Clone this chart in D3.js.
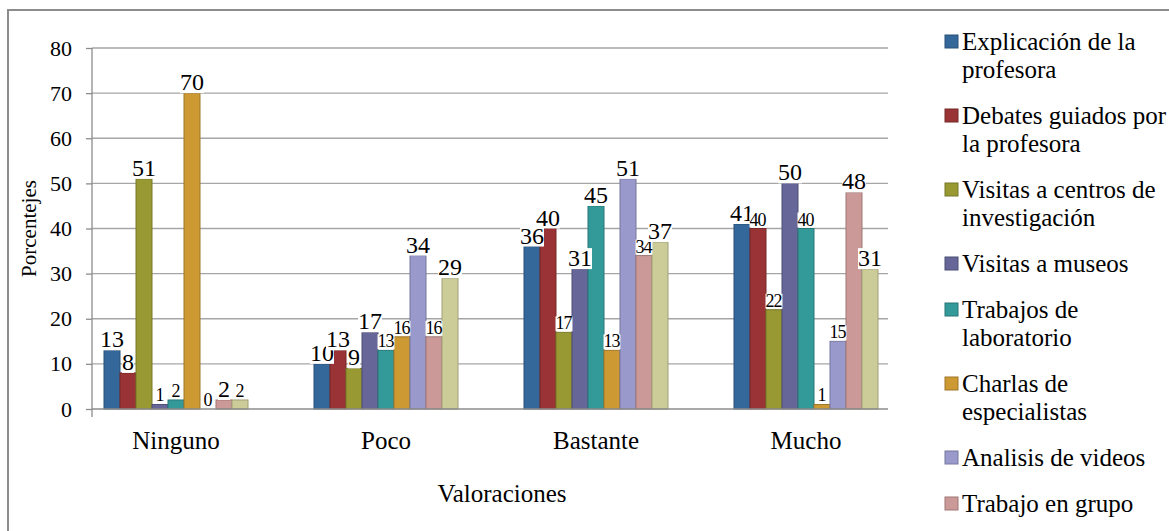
<!DOCTYPE html>
<html>
<head>
<meta charset="utf-8">
<script src="https://cdn.jsdelivr.net/npm/d3@7"></script>
<style>
  body { margin: 0; background: #fff; }
  svg { display: block; }
  svg text { font-family: "Liberation Serif", "Tinos", "Times New Roman", "DejaVu Serif", serif; }
</style>
</head>
<body>
<svg width="1169" height="531"></svg>
<script>
// data
const categories = ["Ninguno", "Poco", "Bastante", "Mucho"];
const seriesNames = [
  "Explicación de la profesora",
  "Debates guiados por la profesora",
  "Visitas a centros de investigación",
  "Visitas a museos",
  "Trabajos de laboratorio",
  "Charlas de especialistas",
  "Analisis de videos",
  "Trabajo en grupo",
  "Otros"
];
const explicacion = [13, 10, 36, 41];
const debates     = [8, 13, 40, 40];
const centros     = [51, 9, 17, 22];
const museos      = [1, 17, 31, 50];
const laboratorio = [2, 13, 45, 40];
const charlas     = [70, 16, 13, 1];
const videos      = [0, 34, 51, 15];
const grupo       = [2, 16, 34, 48];
const otros       = [2, 29, 37, 31];
const yTicks = [0, 10, 20, 30, 40, 50, 60, 70, 80];

const seriesValues = [explicacion, debates, centros, museos, laboratorio, charlas, videos, grupo, otros];
const colors = ["#34679a", "#993335", "#999933", "#666699", "#339999", "#cc9933", "#9999cc", "#cc9999", "#cccc99"];

// labels drawn smaller in the original (series index per category)
const smallLabels = {
  Ninguno: [3, 4, 6, 8],
  Poco: [4, 5, 7],
  Bastante: [2, 5, 7],
  Mucho: [1, 2, 4, 5, 6]
};

const svg = d3.select("svg"),
    width = +svg.attr("width"),
    height = +svg.attr("height");

// chart border (cropped at right and bottom)
svg.append("rect")
    .attr("x", 8).attr("y", 10)
    .attr("width", 1200).attr("height", 600)
    .attr("fill", "none")
    .attr("stroke", "#8c8c8c")
    .attr("stroke-width", 2);

const plotLeft = 92, plotRight = 888;

const y = d3.scaleLinear()
    .domain([0, 80])
    .range([409, 48]);

const x0 = d3.scaleBand()
    .domain(categories)
    .range([71, 911]);

const x1 = d3.scaleBand()
    .domain(d3.range(seriesNames.length))
    .range([-72, 72]);

// gridlines
svg.append("g")
  .selectAll("line")
  .data(yTicks.filter(d => d > 0))
  .join("line")
    .attr("x1", plotLeft).attr("x2", plotRight)
    .attr("y1", d => y(d)).attr("y2", d => y(d))
    .attr("stroke", "#a6a6a6")
    .attr("stroke-width", 1.3);

// y axis
const yAxis = svg.append("g")
    .attr("transform", `translate(${plotLeft},0)`)
    .call(d3.axisLeft(y).tickValues(yTicks).tickSize(6).tickPadding(14));
yAxis.attr("font-family", null);
yAxis.select(".domain").remove();
yAxis.selectAll(".tick line").attr("stroke", "#8c8c8c").attr("stroke-width", 1.3);
yAxis.selectAll(".tick text")
    .attr("font-size", 22)
    .attr("fill", "#000");
svg.append("line")
    .attr("x1", plotLeft).attr("x2", plotLeft)
    .attr("y1", y(80)).attr("y2", y(0) + 8)
    .attr("stroke", "#8c8c8c").attr("stroke-width", 1.3);

// bars
const groups = svg.append("g")
  .selectAll("g")
  .data(categories)
  .join("g")
    .attr("transform", d => `translate(${x0(d) + x0.bandwidth() / 2},0)`);

groups.selectAll("rect")
  .data((c, ci) => seriesValues.map((vals, si) => ({cat: c, si: si, v: vals[ci]})))
  .join("rect")
    .attr("x", d => x1(d.si))
    .attr("y", d => y(d.v))
    .attr("width", x1.bandwidth())
    .attr("height", d => y(0) - y(d.v))
    .attr("fill", d => colors[d.si])
    .attr("stroke", d => d3.color(colors[d.si]).darker(0.7))
    .attr("stroke-width", 1);

// x axis line
svg.append("line")
    .attr("x1", plotLeft).attr("x2", plotRight)
    .attr("y1", y(0)).attr("y2", y(0))
    .attr("stroke", "#8c8c8c").attr("stroke-width", 1.3);

// data labels
const labels = groups.selectAll("g.lbl")
  .data((c, ci) => seriesValues.map((vals, si) => ({cat: c, si: si, v: vals[ci]})))
  .join("g")
    .attr("class", "lbl")
    .attr("transform", d => `translate(${x1(d.si) + x1.bandwidth() / 2},${y(d.v) - 3})`);

labels.append("text")
    .attr("text-anchor", "middle")
    .attr("font-size", d => smallLabels[d.cat].includes(d.si) ? 18 : 24)
    .attr("textLength", d => smallLabels[d.cat].includes(d.si) && d.v >= 10 ? 17 : null)
    .attr("fill", "#000")
    .text(d => d.v);

labels.insert("rect", "text")
    .each(function() {
      const b = this.parentNode.querySelector("text").getBBox();
      d3.select(this)
        .attr("x", b.x).attr("y", b.y + 3)
        .attr("width", b.width).attr("height", b.height - 5);
    })
    .attr("fill", "#fff");

// category labels
svg.append("g")
  .selectAll("text")
  .data(categories)
  .join("text")
    .attr("x", d => x0(d) + x0.bandwidth() / 2)
    .attr("y", 449)
    .attr("text-anchor", "middle")
    .attr("font-size", 25)
    .text(d => d);

// axis titles
svg.append("text")
    .attr("x", 502).attr("y", 502)
    .attr("text-anchor", "middle")
    .attr("font-size", 25)
    .text("Valoraciones");

svg.append("text")
    .attr("transform", `translate(36,${(y(0) + y(80)) / 2}) rotate(-90)`)
    .attr("text-anchor", "middle")
    .attr("font-size", 21)
    .text("Porcentejes");

// legend
const legendLines = [
  ["Explicación de la", "profesora"],
  ["Debates guiados por", "la profesora"],
  ["Visitas a centros de", "investigación"],
  ["Visitas a museos"],
  ["Trabajos de", "laboratorio"],
  ["Charlas de", "especialistas"],
  ["Analisis de videos"],
  ["Trabajo en grupo"],
  ["Otros"]
];
const lineH = 28, itemGap = 18;
let ly = 42;
const legend = svg.append("g");
legendLines.forEach((lines, i) => {
  // entries past the bottom edge are cropped away in the original
  if (ly + 10 > height) return;
  const g = legend.append("g").attr("transform", `translate(0,${ly})`);
  g.append("rect")
      .attr("x", 945).attr("y", -7)
      .attr("width", 13).attr("height", 13)
      .attr("fill", colors[i])
      .attr("stroke", d3.color(colors[i]).darker(0.7))
      .attr("stroke-width", 1);
  g.selectAll("text")
    .data(lines)
    .join("text")
      .attr("x", 962)
      .attr("y", (d, j) => j * lineH + 8)
      .attr("font-size", 25)
      .text(d => d);
  ly += lines.length * lineH + itemGap;
});
</script>
</body>
</html>
